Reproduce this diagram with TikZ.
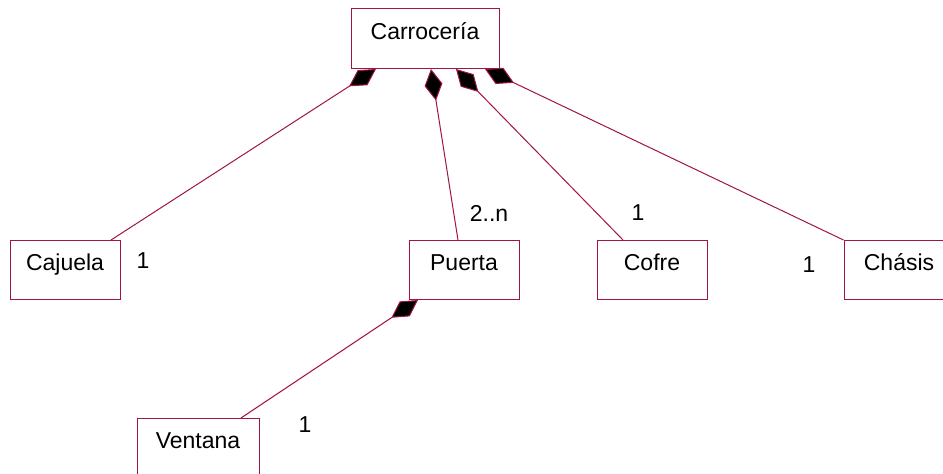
\documentclass[tikz,border=0pt]{standalone}
\usepackage{fontspec}
\setmainfont{Liberation Sans}
\usetikzlibrary{arrows.meta}
\definecolor{umlline}{RGB}{160,20,70}

\begin{document}
\begin{tikzpicture}[x=1pt,y=-1pt,
  cls/.style={draw=umlline,line width=1pt,fill=white,anchor=north,inner sep=0pt,minimum width=110pt,text height=30pt,text depth=29pt,font=\fontsize{23}{27}\selectfont},
  mult/.style={anchor=base,inner sep=0pt,font=\fontsize{23}{27}\selectfont},
  comp/.style={draw=umlline,line width=1pt,-{Diamond[length=32pt,width=18pt,fill=black]}}]
\clip (0,0) rectangle (943,474);
\fill[white] (0,0) rectangle (943,474);
\node[cls,minimum width=148pt,text height=31pt] (carr) at (425,8) {Carrocería};
\node[cls] (caj) at (65,240) {Cajuela};
\node[cls] (pue) at (464,240) {Puerta};
\node[cls] (cof) at (652,240) {Cofre};
\node[cls] (cha) at (899,240) {Chásis};
\node[cls,minimum width=122pt] (ven) at (198,418) {Ventana};
\draw[comp] ([xshift=46pt]caj.north) -- ([xshift=-49pt]carr.south);
\draw[comp] ([xshift=-6pt]pue.north) -- ([xshift=6pt]carr.south);
\draw[comp] ([xshift=-29pt]cof.north) -- ([xshift=31pt]carr.south);
\draw[comp] (cha.north west) -- ([xshift=60pt]carr.south);
\draw[comp] ([xshift=43pt]ven.north) -- ([xshift=-46pt]pue.south);
\node[mult] (m1) at (143,268) {1};
\node[mult] (m2) at (489,221) {2..n};
\node[mult] (m3) at (638,220) {1};
\node[mult] (m4) at (809,272) {1};
\node[mult] (m5) at (305,432) {1};
\end{tikzpicture}
\end{document}
